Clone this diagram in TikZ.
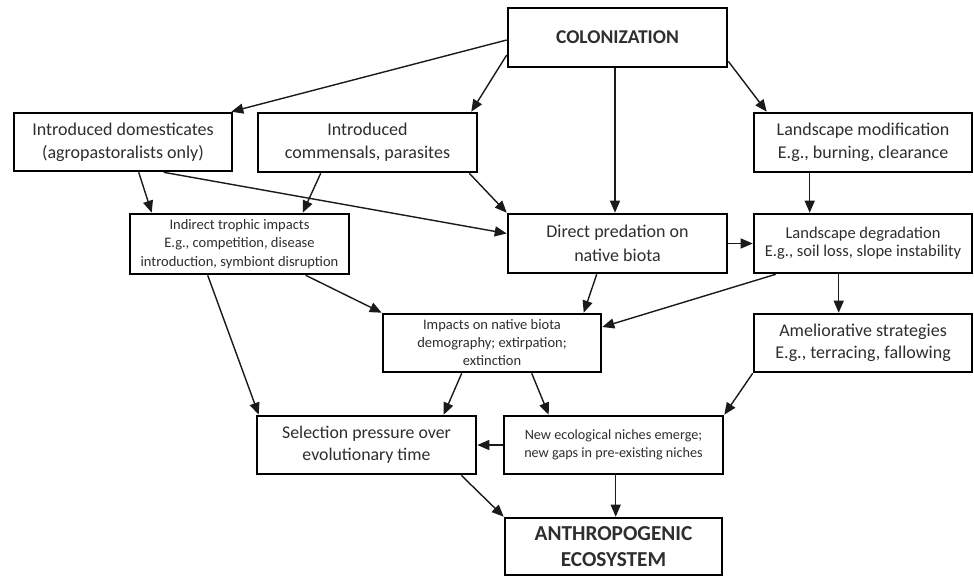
\documentclass[tikz,border=0pt]{standalone}
\usepackage{fontspec}
\setmainfont{Carlito}
\usetikzlibrary{arrows.meta,calc}
\definecolor{txt}{HTML}{2E2E2E}
\definecolor{ln}{HTML}{1A1A1A}
\begin{document}
\begin{tikzpicture}[x=1pt,y=-1pt,
  box/.style={draw=black,line width=2.6pt,rectangle,inner sep=0pt,align=center,text=txt},
  bigf/.style={font=\fontsize{18}{23}\selectfont},
  smallf/.style={font=\fontsize{14.5}{18.3}\selectfont},
  arr/.style={draw=ln,line width=1.4pt,-{Triangle[length=12pt,width=10pt]}}]
\useasboundingbox (0,0) rectangle (974,579);
\fill[white] (0,0) rectangle (974,579);
% nodes
\node[box,minimum width=219,minimum height=59,font=\fontsize{19.5}{23}\selectfont\bfseries] (col) at (617.5,37.5) {COLONIZATION};
\node[box,bigf,minimum width=218,minimum height=58] (dom) at (123,142) {Introduced domesticates\\(agropastoralists only)};
\node[box,bigf,minimum width=219,minimum height=59] (com) at (367.5,142.5) {Introduced\\commensals, parasites};
\node[box,bigf,minimum width=218,minimum height=59] (lmod) at (863,142.5) {Landscape modification\\E.g., burning, clearance};
\node[box,smallf,minimum width=219,minimum height=60] (ind) at (239.5,244) {Indirect trophic impacts\\E.g., competition, disease\\introduction, symbiont disruption};
\node[box,font=\fontsize{18}{24}\selectfont,minimum width=219,minimum height=59] (dir) at (617.5,243.5) {Direct predation on\\native biota};
\node[box,font=\fontsize{16.5}{18.3}\selectfont,minimum width=218,minimum height=59] (ldeg) at (863,243.5) {Landscape degradation\\E.g., soil loss, slope instability};
\node[box,font=\fontsize{14.5}{18}\selectfont,minimum width=218,minimum height=58] (imp) at (492,343) {Impacts on native biota\\demography; extirpation;\\extinction};
\node[box,font=\fontsize{18}{22.3}\selectfont,minimum width=218,minimum height=58] (ame) at (863,343) {Ameliorative strategies\\E.g., terracing, fallowing};
\node[box,font=\fontsize{17.8}{21.7}\selectfont,minimum width=219,minimum height=58] (sel) at (366.5,445) {Selection pressure over\\evolutionary time};
\node[box,font=\fontsize{14.2}{18}\selectfont,minimum width=219,minimum height=58] (nn) at (613.5,445) {New ecological niches emerge;\\new gaps in pre-existing niches};
\node[box,font=\fontsize{21.3}{26.7}\selectfont\bfseries,minimum width=217,minimum height=57] (ant) at (613.5,546.5) {ANTHROPOGENIC\\ECOSYSTEM};
% connectors
\draw[arr] ($(col.west)+(0,2.5)$) -- ($(dom.north east)+(-2,0)$);
\draw[arr] ($(col.west)+(0,17.5)$) -- ($(com.north east)+(-7,0)$);
\draw[arr] ($(col.south)+(-2.5,0)$) -- ($(dir.north)+(-2.5,0)$);
\draw[arr] ($(col.south east)+(0,-7)$) -- ($(lmod.north west)+(14,0)$);
\draw[arr] ($(dom.south west)+(126,0)$) -- ($(ind.north west)+(23,0)$);
\draw[arr] ($(dom.south west)+(151,0)$) -- ($(dir.west)+(0,-10)$);
\draw[arr] ($(com.south west)+(64,0)$) -- ($(ind.north west)+(174,0)$);
\draw[arr] ($(com.south east)+(-9,0)$) -- (dir.north west);
\draw[arr] ($(lmod.south west)+(57,0)$) -- ($(ldeg.north west)+(57,0)$);
\draw[arr] (dir.east) -- (ldeg.west);
\draw[arr] ($(dir.south west)+(90,0)$) -- ($(imp.north west)+(202,0)$);
\draw[arr] ($(ldeg.south west)+(23,0)$) -- ($(imp.east)+(0,-16)$);
\draw[arr] ($(ldeg.south west)+(86,0)$) -- ($(ame.north west)+(86,0)$);
\draw[arr] ($(ind.south west)+(177,0)$) -- (imp.north west);
\draw[arr] ($(ind.south west)+(79,0)$) -- ($(sel.north west)+(3,0)$);
\draw[arr] ($(imp.south west)+(80,0)$) -- ($(sel.north west)+(188,0)$);
\draw[arr] ($(imp.south west)+(150,0)$) -- ($(nn.north west)+(46,0)$);
\draw[arr] (ame.south west) -- (nn.north east);
\draw[arr] (nn.west) -- (sel.east);
\draw[arr] ($(sel.south east)+(-16,0)$) -- (ant.north west);
\draw[arr] ($(nn.south west)+(113,0)$) -- ($(ant.north west)+(112,0)$);
\end{tikzpicture}
\end{document}
